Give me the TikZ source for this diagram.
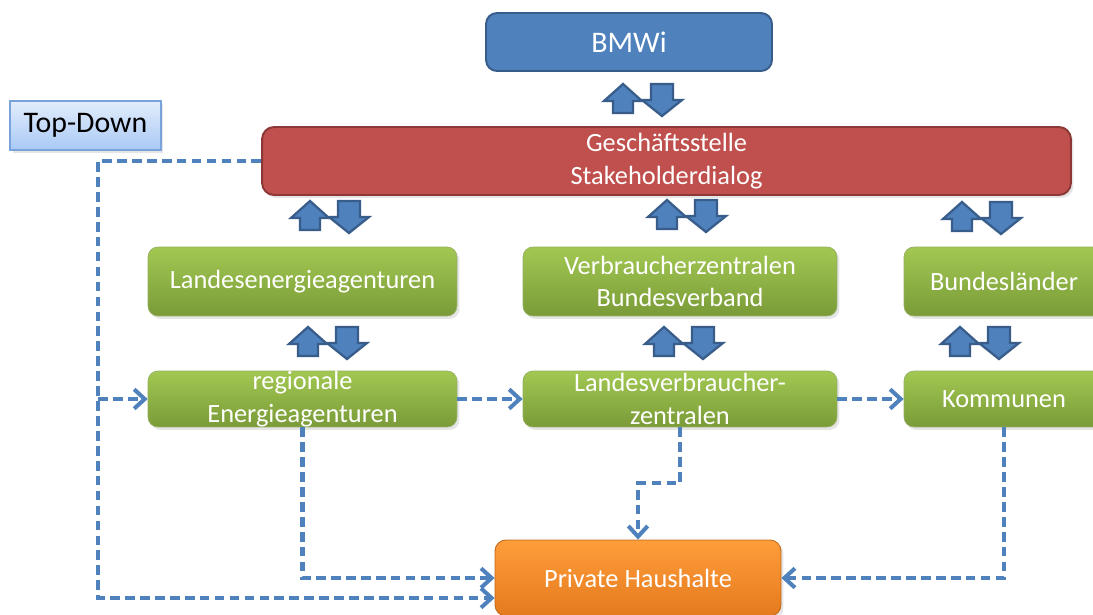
\documentclass[tikz,border=0pt]{standalone}
\usepackage{fontspec}
\setmainfont{Carlito}
\usetikzlibrary{arrows.meta,shadows}

\definecolor{boxblue}{HTML}{4F81BD}
\definecolor{boxblueline}{HTML}{385D8A}
\definecolor{boxred}{HTML}{C0504D}
\definecolor{boxredline}{HTML}{8C3836}
\definecolor{greentop}{HTML}{A2C852}
\definecolor{greenbottom}{HTML}{7A9B38}
\definecolor{orangetop}{HTML}{FF9D3A}
\definecolor{orangebottom}{HTML}{E47A1E}
\definecolor{tdtop}{HTML}{E2EDFC}
\definecolor{tdbottom}{HTML}{A9C9F5}
\definecolor{tdline}{HTML}{7AA3DC}
\definecolor{dashblue}{HTML}{4F81BD}

\newcommand{\updownarrows}[2]{%
\begin{scope}[shift={(#1,#2)}]
\filldraw [blockarrow] (-19,0) -- (0,17) -- (-9,17) -- (-9,29) -- (-29,29) -- (-29,17) -- (-38,17) -- cycle;
\filldraw [blockarrow] (9,0) -- (31,0) -- (31,16) -- (40,16) -- (20,32) -- (0,16) -- (9,16) -- cycle;
\end{scope}}

\begin{document}
\begin{tikzpicture}[x=0.02cm,y=-0.02cm]
\tikzstyle{every node}+=[font=\fontsize{15}{18.7}\selectfont, text=white, align=center, inner sep=0pt]
\tikzstyle{greenbox}=[rounded corners=0.2cm, top color=greentop, bottom color=greenbottom, draw=greenbottom!80!white, line width=0.4pt, drop shadow={opacity=0.2, shadow xshift=0.05cm, shadow yshift=-0.06cm}]
\tikzstyle{blockarrow}=[fill=boxblue, draw=boxblueline, line width=1.3pt, line join=miter]
\tikzstyle{dasharrow}=[draw=dashblue, line width=2.3pt, dash pattern=on 5.5pt off 3pt, -{Straight Barb[length=6pt,width=11pt,line width=2.3pt]}]
\clip (0,0) rectangle (1093,615);
\fill [white] (0,0) rectangle (1093,615);

\node (bmwi) [rounded corners=0.22cm, fill=boxblue, draw=boxblueline, line width=1.1pt, minimum width=5.72cm, minimum height=1.16cm, font=\fontsize{17}{20}\selectfont] at (629,42) {BMWi};
\node (topdown) [top color=tdtop, bottom color=tdbottom, draw=tdline, line width=0.8pt, minimum width=3.02cm, minimum height=0.98cm, text=black, font=\fontsize{17}{20}\selectfont, drop shadow={opacity=0.2, shadow xshift=0.05cm, shadow yshift=-0.06cm}] at (85.5,125.5) {Top-Down};
\node (gs) [rounded corners=0.24cm, fill=boxred, draw=boxredline, line width=1.1pt, minimum width=16.18cm, minimum height=1.36cm, drop shadow={opacity=0.2, shadow xshift=0.05cm, shadow yshift=-0.06cm}] at (666.5,161) {Geschäftsstelle\\Stakeholderdialog};

\node (lea) [greenbox, minimum width=6.18cm, minimum height=1.38cm] at (302.5,281.5) {Landesenergieagenturen};
\node (vzbv) [greenbox, minimum width=6.28cm, minimum height=1.38cm] at (680,281.5) {Verbraucherzentralen\\Bundesverband};
\node (bl) [greenbox, minimum width=4cm, minimum height=1.38cm] at (1004,281.5) {Bundesländer};

\node (rea) [greenbox, minimum width=6.18cm, minimum height=1.12cm] at (302.5,399) {regionale\\Energieagenturen};
\node (lvz) [greenbox, minimum width=6.28cm, minimum height=1.12cm] at (680,399) {Landesverbraucher-\\zentralen};
\node (kom) [greenbox, minimum width=4cm, minimum height=1.12cm] at (1004,399) {Kommunen};

\node (ph) [rounded corners=0.22cm, top color=orangetop, bottom color=orangebottom, draw=orangebottom!85!black, line width=0.5pt, minimum width=5.72cm, minimum height=1.52cm, drop shadow={opacity=0.2, shadow xshift=0.05cm, shadow yshift=-0.06cm}] at (638,578) {Private Haushalte};

\updownarrows{642}{84}
\updownarrows{329}{201}
\updownarrows{686}{200}
\updownarrows{981}{202}
\updownarrows{327}{327}
\updownarrows{683}{327}
\updownarrows{979}{327}

\coordinate (tdcorner) at (98,598);
\coordinate (tdbranch) at (98,399);
\draw [dasharrow] (gs.west) -| (tdcorner) -- (tdcorner -| ph.west);
\draw [dasharrow] (tdbranch) -- (rea.west);
\draw [dasharrow] (rea.east) -- (lvz.west);
\draw [dasharrow] (lvz.east) -- (kom.west);
\draw [dasharrow] (rea.south) |- (ph.west);
\draw [dasharrow] (lvz.south) -- ++(0,56) -| (ph.north);
\draw [dasharrow] (kom.south) |- (ph.east);
\end{tikzpicture}
\end{document}
